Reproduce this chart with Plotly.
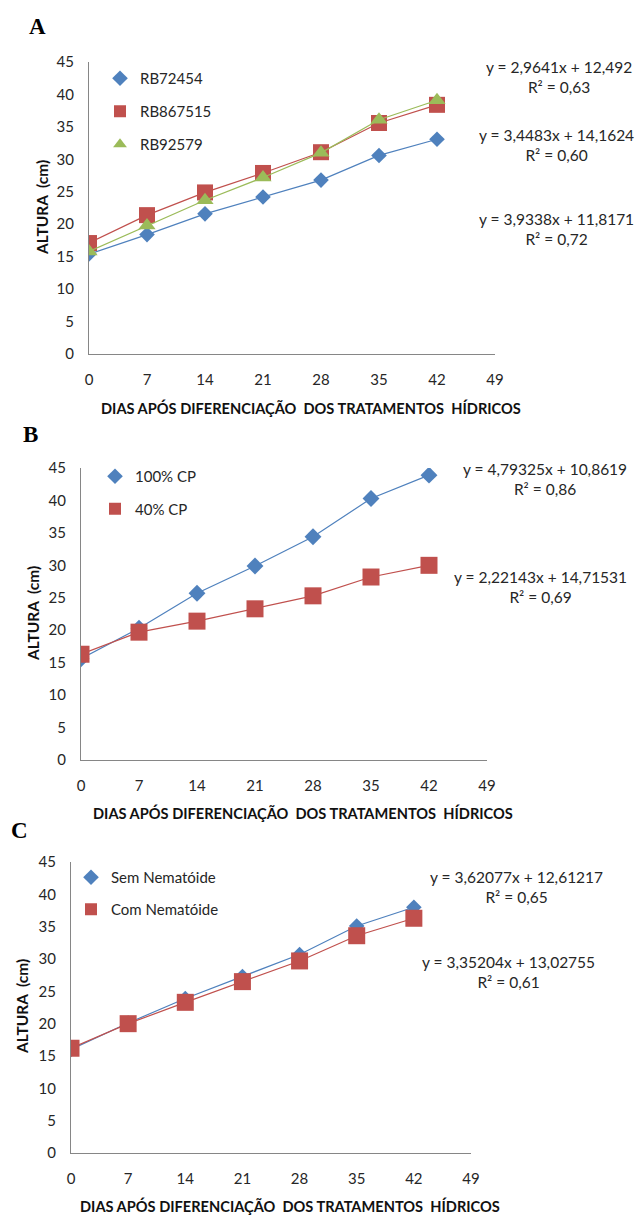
import plotly.graph_objects as go

W, H = 639, 1216

days = [0, 7, 14, 21, 28, 35, 42]
x_ticks = [0, 7, 14, 21, 28, 35, 42, 49]
y_ticks = [0, 5, 10, 15, 20, 25, 30, 35, 40, 45]

# Panel A - cultivars
a_names = ["RB72454", "RB867515", "RB92579"]
a_rb72454 = [15.4, 18.4, 21.6, 24.2, 26.8, 30.6, 33.1]
a_rb867515 = [17.1, 21.4, 24.9, 27.9, 31.1, 35.6, 38.4]
a_rb92579 = [15.8, 19.8, 23.7, 27.2, 31.0, 36.1, 39.1]
a_eqs = ["y = 2,9641x + 12,492<br>R² = 0,63",
         "y = 3,4483x + 14,1624<br>R² = 0,60",
         "y = 3,9338x + 11,8171<br>R² = 0,72"]

# Panel B - water regimes
b_names = ["100% CP", "40% CP"]
b_100 = [15.6, 20.3, 25.7, 29.9, 34.4, 40.3, 43.9]
b_40 = [16.3, 19.7, 21.4, 23.3, 25.3, 28.2, 30.0]
b_eqs = ["y = 4,79325x + 10,8619<br>R² = 0,86",
         "y = 2,22143x + 14,71531<br>R² = 0,69"]

# Panel C - nematode
c_names = ["Sem Nematóide", "Com Nematóide"]
c_sem = [16.0, 20.1, 23.9, 27.3, 30.7, 35.1, 38.0]
c_com = [16.2, 20.0, 23.3, 26.5, 29.7, 33.6, 36.3]
c_eqs = ["y = 3,62077x + 12,61217<br>R² = 0,65",
         "y = 3,35204x + 13,02755<br>R² = 0,61"]

x_title = "DIAS APÓS DIFERENCIAÇÃO  DOS TRATAMENTOS  HÍDRICOS"
y_title = "ALTURA  (cm)"

BLUE, RED, GREEN = "#4F81BD", "#C0504D", "#9BBB59"
AXIS = "#868686"
TXT = "#262626"
FONT = "Lato"


def px_x(p):
    return p / W


def px_y(p):
    return 1 - p / H


fig = go.Figure()

panels = [
    dict(ax="", box=(89, 495, 62, 354),
         series=[(a_names[0], a_rb72454, BLUE, "diamond", 12),
                 (a_names[1], a_rb867515, RED, "square", 16),
                 (a_names[2], a_rb92579, GREEN, "triangle-up", 15)],
         legend="legend", leg=(100, 62), gap=10.5,
         eqs=[(a_eqs[0], 559, 77), (a_eqs[1], 556, 145), (a_eqs[2], 556, 229)],
         letter=("A", 37, 27), xt=(311, 408), yt=(42, 208)),
    dict(ax="2", box=(81, 487, 468, 760),
         series=[(b_names[0], b_100, BLUE, "diamond", 13),
                 (b_names[1], b_40, RED, "square", 17)],
         legend="legend2", leg=(95, 460), gap=10,
         eqs=[(b_eqs[0], 545, 479), (b_eqs[1], 540, 587)],
         letter=("B", 30, 435), xt=(303, 813), yt=(33, 614)),
    dict(ax="3", box=(71, 471, 862, 1153),
         series=[(c_names[0], c_sem, BLUE, "diamond", 12),
                 (c_names[1], c_com, RED, "square", 17)],
         legend="legend3", leg=(71, 861), gap=9.5,
         eqs=[(c_eqs[0], 516, 887), (c_eqs[1], 509, 972)],
         letter=("C", 19, 830), xt=(290, 1206), yt=(22, 1007)),
]

annotations = []
layout_extra = {}
for p in panels:
    ax = p["ax"]
    xa, ya = "x" + ax, "y" + ax
    for i, (name, vals, col, sym, size) in enumerate(p["series"]):
        fig.add_trace(go.Scatter(
            x=days, y=vals, mode="lines", xaxis=xa, yaxis=ya,
            line=dict(color=col, width=1.2), showlegend=False, hoverinfo="skip"))
        fig.add_trace(go.Scatter(
            x=days, y=vals, mode="markers", name=name, xaxis=xa, yaxis=ya,
            marker=dict(symbol=sym, size=size, color=col, line=dict(width=0)),
            legend=p["legend"], legendgroup=p["legend"] + str(i)))
    x0, x1, y0, y1 = p["box"]
    layout_extra["xaxis" + ax] = dict(
        domain=[px_x(x0), px_x(x1)], range=[0, 49], tickvals=x_ticks,
        showline=True, linecolor=AXIS, linewidth=1.3, showgrid=False, zeroline=False,
        ticks="", ticklabelstandoff=12, anchor=ya, automargin=False,
        tickfont=dict(family=FONT, size=15, color=TXT), fixedrange=True)
    layout_extra["yaxis" + ax] = dict(
        domain=[px_y(y1), px_y(y0)], range=[0, 45], tickvals=y_ticks,
        showline=True, linecolor=AXIS, linewidth=1.3, showgrid=False, zeroline=False,
        ticks="", ticklabelstandoff=11, anchor=xa, automargin=False,
        tickfont=dict(family=FONT, size=15, color=TXT), fixedrange=True)
    lx, ly = p["leg"]
    layout_extra[p["legend"]] = dict(
        x=px_x(lx), y=px_y(ly), xanchor="left", yanchor="top",
        font=dict(family=FONT, size=15, color=TXT), bgcolor="rgba(0,0,0,0)",
        tracegroupgap=p["gap"], itemwidth=30, itemsizing="constant")
    for txt, ex, ey in p["eqs"]:
        annotations.append(dict(
            text=txt, x=px_x(ex), y=px_y(ey), xref="paper", yref="paper",
            xanchor="center", yanchor="middle", showarrow=False, align="center",
            font=dict(family=FONT, size=15.5, color=TXT)))
    lt, ltx, lty = p["letter"]
    annotations.append(dict(
        text="<b>" + lt + "</b>", x=px_x(ltx), y=px_y(lty), xref="paper", yref="paper",
        xanchor="center", yanchor="middle", showarrow=False,
        font=dict(family="Liberation Serif", size=23, color="#000")))
    xtx, xty = p["xt"]
    annotations.append(dict(
        text="<b>" + x_title + "</b>", x=px_x(xtx), y=px_y(xty), xref="paper", yref="paper",
        xanchor="center", yanchor="middle", showarrow=False,
        font=dict(family=FONT, size=14.6, color="#111")))
    ytx, yty = p["yt"]
    annotations.append(dict(
        text="<b>" + y_title + "</b>", x=px_x(ytx), y=px_y(yty), xref="paper", yref="paper",
        xanchor="center", yanchor="middle", showarrow=False, textangle=-90,
        font=dict(family=FONT, size=15.5, color="#111")))

fig.update_layout(
    width=W, height=H, margin=dict(l=0, r=0, t=0, b=0, pad=0, autoexpand=False),
    paper_bgcolor="white", plot_bgcolor="white",
    annotations=annotations, **layout_extra)

fig.write_html("out.html", config={"displayModeBar": False},
               post_script="document.body.style.margin='0';"
                           "document.body.style.overflow='hidden';")
